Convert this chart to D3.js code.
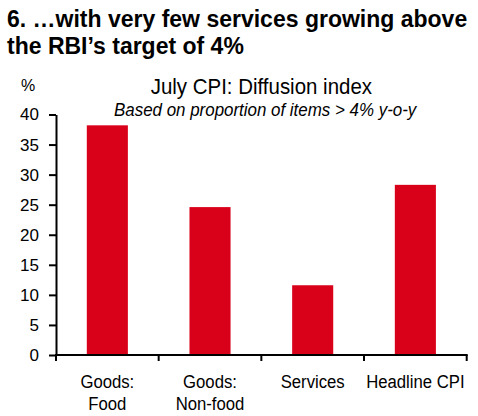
<!DOCTYPE html>
<html>
<head>
<meta charset="utf-8">
<script src="https://cdn.jsdelivr.net/npm/d3@7"></script>
<style>
  body { margin: 0; background: #fff; }
  svg { display: block; font-family: "Liberation Sans", Arial, sans-serif; }
  .axis path, .axis line { stroke: #000; stroke-width: 2; }
  .axis text { fill: #000; font-size: 17px; }
</style>
</head>
<body>
<svg width="478" height="416"></svg>
<script>
(function (d3) {
  'use strict';

  // data
  const categories = ['Goods: Food', 'Goods: Non-food', 'Services', 'Headline CPI'];
  const categoryLines = [['Goods:', 'Food'], ['Goods:', 'Non-food'], ['Services'], ['Headline CPI']];
  const values = [38.2, 24.6, 11.6, 28.3];
  const yTicks = [0, 5, 10, 15, 20, 25, 30, 35, 40];

  const svg = d3.select('svg');

  const left = 56, right = 466.7, top = 114.5, bottom = 355;

  const x = d3.scaleBand()
    .domain(categories)
    .range([left, right])
    .paddingInner(0.6)
    .paddingOuter(0.3);

  const y = d3.scaleLinear()
    .domain([0, 40])
    .range([bottom, top]);

  // the original uses a slightly condensed sans, so squeeze text horizontally
  const squeezed = (px, py, sx) => svg.append('g')
    .attr('transform', `translate(${px},${py}) scale(${sx},1)`);

  // titles
  svg.append('text')
    .attr('x', 7).attr('y', 26.5)
    .attr('font-size', 23).attr('font-weight', 'bold')
    .text('6. …with very few services growing above');
  svg.append('text')
    .attr('x', 7).attr('y', 53.5)
    .attr('font-size', 23).attr('font-weight', 'bold')
    .text('the RBI’s target of 4%');

  squeezed((left + right) / 2, 93.5, 0.93).append('text')
    .attr('text-anchor', 'middle')
    .attr('font-size', 22)
    .text('July CPI: Diffusion index');
  squeezed(114, 115.5, 0.915).append('text')
    .attr('font-size', 18.5).attr('font-style', 'italic')
    .text('Based on proportion of items > 4% y-o-y');

  svg.append('text')
    .attr('x', 28).attr('y', 91)
    .attr('text-anchor', 'middle')
    .attr('font-size', 16)
    .text('%');

  // bars
  svg.append('g').selectAll('rect').data(values)
    .enter().append('rect')
      .attr('x', (d, i) => x(categories[i]))
      .attr('y', d => y(d))
      .attr('width', x.bandwidth())
      .attr('height', d => y(0) - y(d))
      .attr('fill', '#d9001a');

  // y axis
  const yAxisG = svg.append('g')
    .attr('class', 'axis')
    .attr('transform', `translate(${left},0)`)
    .call(d3.axisLeft(y).tickValues(yTicks).tickSize(7).tickSizeOuter(0).tickPadding(10));
  yAxisG.selectAll('text').attr('font-size', 17).attr('font-family', null);

  // x axis: baseline with ticks between categories
  const xAxisG = svg.append('g').attr('class', 'axis');
  xAxisG.append('line')
    .attr('x1', left - 1).attr('x2', right + 1)
    .attr('y1', y(0)).attr('y2', y(0));
  xAxisG.selectAll('line.tick').data(d3.range(categories.length + 1))
    .enter().append('line')
      .attr('class', 'tick')
      .attr('x1', i => left + i * x.step())
      .attr('x2', i => left + i * x.step())
      .attr('y1', y(0)).attr('y2', y(0) + 6);

  categories.forEach((c, i) => {
    squeezed(x(c) + x.bandwidth() / 2, 387.5, 0.88).append('text')
      .attr('font-size', 19)
      .attr('text-anchor', 'middle')
      .selectAll('tspan').data(categoryLines[i])
      .enter().append('tspan')
        .attr('x', 0)
        .attr('dy', (t, j) => j === 0 ? 0 : 23)
        .text(t => t);
  });

}(d3));
</script>
</body>
</html>
